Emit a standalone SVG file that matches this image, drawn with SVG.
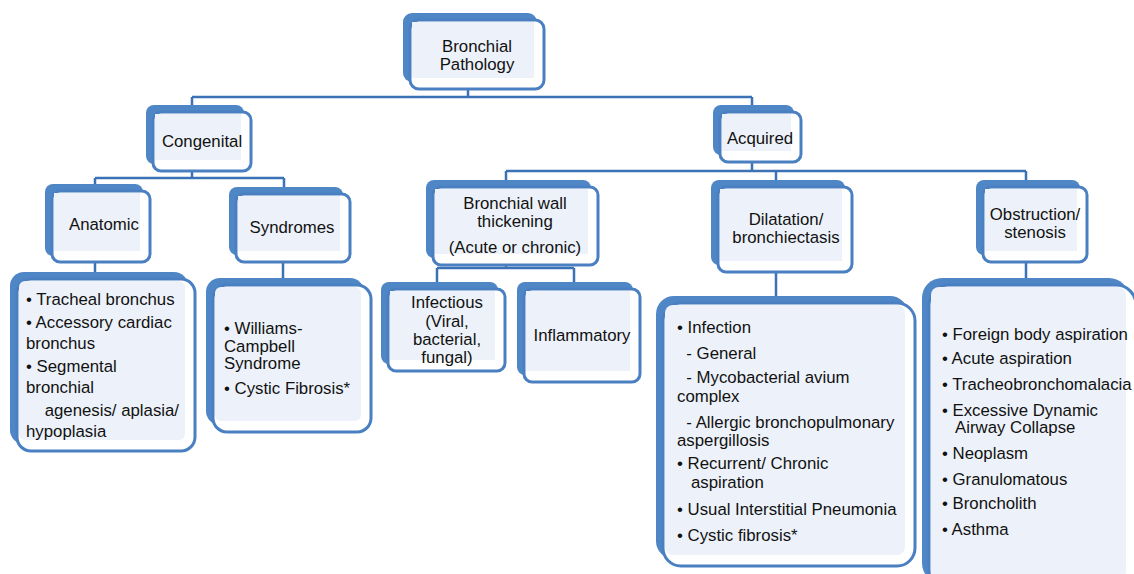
<svg xmlns="http://www.w3.org/2000/svg" width="1134" height="574" viewBox="0 0 1134 574">
<style>
.sh{fill:#4f86c6;}
.fr{fill:#ffffff;stroke:#4a80c2;stroke-width:3;}
.in{fill:#edf2fa;}
.t{font-family:"Liberation Sans",Arial,sans-serif;font-size:16.8px;fill:#111;}
.c{text-anchor:middle;}
.ln{stroke:#3a72b5;stroke-width:2.5;fill:none;}
</style>
<rect width="1134" height="574" fill="#ffffff"/>
<g id="connectors">
<path class="ln" d="M468,89V97M192,97H752M192,97V105M752,97V105"/>
<path class="ln" d="M192,171V178M95,178H284M95,178V184M284,178V187"/>
<path class="ln" d="M95,262V272M283,262V278"/>
<path class="ln" d="M752,162V171M506,171H1026M506,171V180M776,171V180M1026,171V180"/>
<path class="ln" d="M506,265V268M437,268H574M437,268V282M574,268V282"/>
<path class="ln" d="M776,272V297M1026,262V279"/>
</g>
<g id="root">
<rect class="sh" x="403" y="13" width="134" height="69" rx="9"/>
<rect class="fr" x="410" y="20" width="134" height="69" rx="9"/>
<rect class="in" x="412" y="22" width="122" height="56"/>
<text class="t c" x="477" y="52">Bronchial</text>
<text class="t c" x="477" y="70">Pathology</text>
</g>
<g id="congenital">
<rect class="sh" x="146" y="105" width="98" height="59" rx="8"/>
<rect class="fr" x="153" y="112" width="98" height="59" rx="8"/>
<rect class="in" x="155" y="114" width="86" height="46"/>
<text class="t c" x="202" y="147">Congenital</text>
</g>
<g id="acquired">
<rect class="sh" x="713" y="105" width="81" height="50" rx="8"/>
<rect class="fr" x="720" y="112" width="81" height="50" rx="8"/>
<rect class="in" x="722" y="114" width="69" height="37"/>
<text class="t c" x="760" y="144">Acquired</text>
</g>
<g id="anatomic">
<rect class="sh" x="45" y="184" width="98" height="72" rx="8"/>
<rect class="fr" x="52" y="191" width="98" height="71" rx="8"/>
<rect class="in" x="54" y="193" width="86" height="58"/>
<text class="t c" x="104" y="230">Anatomic</text>
</g>
<g id="syndromes">
<rect class="sh" x="229" y="187" width="114" height="68" rx="8"/>
<rect class="fr" x="236" y="194" width="114" height="68" rx="8"/>
<rect class="in" x="238" y="196" width="102" height="55"/>
<text class="t c" x="292" y="233">Syndromes</text>
</g>
<g id="wall">
<rect class="sh" x="426" y="180" width="165" height="78" rx="8"/>
<rect class="fr" x="433" y="187" width="165" height="78" rx="8"/>
<rect class="in" x="435" y="189" width="153" height="65"/>
<text class="t c" x="515" y="209">Bronchial wall</text>
<text class="t c" x="515" y="227">thickening</text>
<text class="t c" x="515" y="253">(Acute or chronic)</text>
</g>
<g id="dilatation">
<rect class="sh" x="711" y="180" width="134" height="85" rx="8"/>
<rect class="fr" x="718" y="187" width="134" height="85" rx="8"/>
<rect class="in" x="720" y="189" width="122" height="72"/>
<text class="t c" x="786" y="225">Dilatation/</text>
<text class="t c" x="786" y="243">bronchiectasis</text>
</g>
<g id="obstruction">
<rect class="sh" x="976" y="180" width="104" height="75" rx="8"/>
<rect class="fr" x="983" y="187" width="104" height="75" rx="8"/>
<rect class="in" x="985" y="189" width="92" height="62"/>
<text class="t c" x="1035" y="220">Obstruction/</text>
<text class="t c" x="1035" y="238">stenosis</text>
</g>
<g id="anatomic-list">
<rect class="sh" x="10" y="272" width="178" height="172" rx="14"/>
<rect class="fr" x="17" y="279" width="178" height="172" rx="14"/>
<rect class="in" x="19" y="281" width="166" height="159" rx="6"/>
<text class="t" x="26" y="305">• Tracheal bronchus</text>
<text class="t" x="26" y="328">• Accessory cardiac</text>
<text class="t" x="26" y="349">bronchus</text>
<text class="t" x="26" y="372">• Segmental</text>
<text class="t" x="26" y="393">bronchial</text>
<text class="t" x="26" y="416" xml:space="preserve">    agenesis/ aplasia/</text>
<text class="t" x="26" y="437">hypoplasia</text>
</g>
<g id="syndromes-list">
<rect class="sh" x="206" y="278" width="158" height="147" rx="14"/>
<rect class="fr" x="213" y="285" width="158" height="147" rx="14"/>
<rect class="in" x="215" y="287" width="146" height="134" rx="6"/>
<text class="t" x="224" y="334">• Williams-</text>
<text class="t" x="224" y="352">Campbell</text>
<text class="t" x="224" y="369">Syndrome</text>
<text class="t" x="224" y="394">• Cystic Fibrosis*</text>
</g>
<g id="infectious">
<rect class="sh" x="381" y="282" width="117" height="82" rx="8"/>
<rect class="fr" x="388" y="289" width="117" height="82" rx="8"/>
<rect class="in" x="390" y="291" width="105" height="69"/>
<text class="t c" x="447" y="308">Infectious</text>
<text class="t c" x="447" y="327">(Viral,</text>
<text class="t c" x="447" y="345">bacterial,</text>
<text class="t c" x="447" y="363">fungal)</text>
</g>
<g id="inflammatory">
<rect class="sh" x="517" y="282" width="116" height="93" rx="8"/>
<rect class="fr" x="524" y="289" width="116" height="93" rx="8"/>
<rect class="in" x="526" y="291" width="104" height="80"/>
<text class="t c" x="582" y="341">Inflammatory</text>
</g>
<g id="dilatation-list">
<rect class="sh" x="656" y="296" width="252" height="263" rx="18"/>
<rect class="fr" x="663" y="303" width="252" height="263" rx="18"/>
<rect class="in" x="665" y="305" width="240" height="250" rx="8"/>
<text class="t" x="677" y="333">• Infection</text>
<text class="t" x="677" y="359" xml:space="preserve">  - General</text>
<text class="t" x="677" y="383" xml:space="preserve">  - Mycobacterial avium</text>
<text class="t" x="677" y="402">complex</text>
<text class="t" x="677" y="428" xml:space="preserve">  - Allergic bronchopulmonary</text>
<text class="t" x="677" y="446">aspergillosis</text>
<text class="t" x="677" y="469">• Recurrent/ Chronic</text>
<text class="t" x="677" y="488" xml:space="preserve">   aspiration</text>
<text class="t" x="677" y="515">• Usual Interstitial Pneumonia</text>
<text class="t" x="677" y="541">• Cystic fibrosis*</text>
</g>
<g id="obstruction-list">
<rect class="sh" x="922" y="278" width="207" height="305" rx="20"/>
<rect class="fr" x="929" y="285" width="207" height="305" rx="20"/>
<rect class="in" x="931" y="287" width="195" height="292" rx="8"/>
<text class="t" x="942" y="340">• Foreign body aspiration</text>
<text class="t" x="942" y="364">• Acute aspiration</text>
<text class="t" x="942" y="390">• Tracheobronchomalacia</text>
<text class="t" x="942" y="416">• Excessive Dynamic</text>
<text class="t" x="942" y="433" xml:space="preserve">   Airway Collapse</text>
<text class="t" x="942" y="459">• Neoplasm</text>
<text class="t" x="942" y="485">• Granulomatous</text>
<text class="t" x="942" y="509">• Broncholith</text>
<text class="t" x="942" y="535">• Asthma</text>
</g>
</svg>
